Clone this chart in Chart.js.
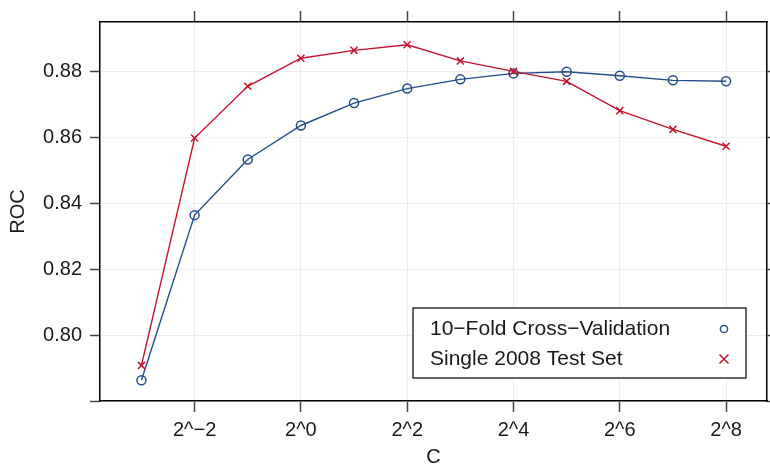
<!DOCTYPE html>
<html>
<head>
<meta charset="utf-8">
<title>ROC vs C</title>
<script src="https://cdn.jsdelivr.net/npm/chart.js"></script>
<style>
  body { margin: 0; background: #fff; }
  #wrap { width: 770px; height: 467px; }
</style>
</head>
<body>
<div id="wrap"><canvas id="rocChart"></canvas></div>
<script>
// log2(C) values of the tuning grid
const log2C = [-3, -2, -1, 0, 1, 2, 3, 4, 5, 6, 7, 8];

// ROC
const cvROC = [0.7863, 0.8364, 0.8533, 0.8636, 0.8704, 0.8748, 0.8776, 0.8794, 0.8799, 0.8787, 0.8773, 0.8770];
const testROC = [0.7908, 0.8598, 0.8755, 0.8840, 0.8864, 0.8881, 0.8832, 0.8800, 0.8770, 0.8681, 0.8624, 0.8573];

const seriesNames = ['10\u2212Fold Cross\u2212Validation', 'Single 2008 Test Set'];

// axis ticks
const xTicks = [-2, 0, 2, 4, 6, 8];
const xTickLabels = ['2^\u22122', '2^0', '2^2', '2^4', '2^6', '2^8'];
const yTicks = [0.78, 0.80, 0.82, 0.84, 0.86, 0.88];
const yTickLabels = ['', '0.80', '0.82', '0.84', '0.86', '0.88'];

const blue = '#234e8c';
const red = '#c4142d';
const gridCol = '#ececec';
const tickCol = '#444';
const font = 'Liberation Sans, Arial, Helvetica, sans-serif';

const setTicks = (vals) => (scale) => { scale.ticks = vals.map(v => ({ value: v })); };
const fitW = (w) => (scale) => { scale.width = w; };
const fitH = (h) => (scale) => { scale.height = h; };

// lattice style key: text on the left, symbol on the right, boxed
const keyBox = {
  id: 'keyBox',
  afterDraw(chart) {
    const ctx = chart.ctx;
    const x0 = 413, y0 = 308, w = 333, h = 70;
    ctx.save();
    ctx.fillStyle = '#fff';
    ctx.fillRect(x0, y0, w, h);
    ctx.strokeStyle = '#000';
    ctx.lineWidth = 1.2;
    ctx.strokeRect(x0, y0, w, h);
    ctx.font = '21px ' + font;
    ctx.textBaseline = 'middle';
    ctx.textAlign = 'left';
    chart.data.datasets.forEach((ds, i) => {
      const y = y0 + 21 + i * 30;
      ctx.fillStyle = '#1a1a1a';
      ctx.fillText(ds.label, x0 + 17, y);
      ctx.strokeStyle = ds.borderColor;
      ctx.lineWidth = 1.5;
      const sx = x0 + 311;
      ctx.beginPath();
      if (ds.pointStyle === 'circle') {
        ctx.arc(sx, y, 3.6, 0, Math.PI * 2);
      } else {
        ctx.moveTo(sx - 4.5, y - 4.5); ctx.lineTo(sx + 4.5, y + 4.5);
        ctx.moveTo(sx - 4.5, y + 4.5); ctx.lineTo(sx + 4.5, y - 4.5);
      }
      ctx.stroke();
    });
    ctx.restore();
  }
};

new Chart(document.getElementById('rocChart'), {
  type: 'line',
  data: {
    datasets: [
      {
        label: seriesNames[0],
        data: log2C.map((x, i) => ({ x: x, y: cvROC[i] })),
        borderColor: blue,
        backgroundColor: 'transparent',
        borderWidth: 1.4,
        pointStyle: 'circle',
        pointRadius: 4.5,
        pointBorderWidth: 1.5,
        pointBorderColor: blue,
        pointBackgroundColor: 'transparent',
        tension: 0,
        order: 2
      },
      {
        label: seriesNames[1],
        data: log2C.map((x, i) => ({ x: x, y: testROC[i] })),
        borderColor: red,
        backgroundColor: 'transparent',
        borderWidth: 1.4,
        pointStyle: 'crossRot',
        pointRadius: 5,
        pointBorderWidth: 1.5,
        pointBorderColor: red,
        tension: 0,
        order: 1
      }
    ]
  },
  options: {
    responsive: true,
    maintainAspectRatio: false,
    animation: false,
    layout: { padding: 0, autoPadding: false },
    plugins: { legend: { display: false }, tooltip: { enabled: false } },
    scales: {
      x: {
        type: 'linear', position: 'bottom', min: -3.78, max: 8.77,
        afterBuildTicks: setTicks(xTicks),
        afterFit: fitH(66),
        ticks: {
          callback: (v) => xTickLabels[xTicks.indexOf(v)],
          color: '#1a1a1a', font: { family: font, size: 20 }, padding: 6, maxRotation: 0
        },
        grid: { color: gridCol, lineWidth: 1, tickColor: tickCol, tickLength: 11, tickWidth: 1.5 },
        border: { color: '#000', width: 1.5 },
        title: { display: true, text: 'C', color: '#1a1a1a', font: { family: font, size: 20, lineHeight: 1 }, padding: { top: 0, bottom: 0 } }
      },
      xTop: {
        type: 'linear', position: 'top', min: -3.78, max: 8.77,
        afterBuildTicks: setTicks(xTicks),
        afterFit: fitH(22),
        ticks: { display: false },
        grid: { drawOnChartArea: false, tickColor: tickCol, tickLength: 11, tickWidth: 1.5 },
        border: { color: '#000', width: 1.5 }
      },
      y: {
        type: 'linear', position: 'left', min: 0.78, max: 0.895,
        afterBuildTicks: setTicks(yTicks),
        afterFit: fitW(100),
        ticks: {
          callback: (v) => yTickLabels[yTicks.findIndex(t => Math.abs(t - v) < 1e-9)],
          color: '#1a1a1a', font: { family: font, size: 20 }, padding: 8
        },
        grid: { color: gridCol, lineWidth: 1, tickColor: tickCol, tickLength: 10, tickWidth: 1.5 },
        border: { color: '#000', width: 1.5 },
        title: { display: true, text: 'ROC', color: '#1a1a1a', font: { family: font, size: 20, lineHeight: 1 }, padding: { top: 8, bottom: 0 } }
      },
      yRight: {
        type: 'linear', position: 'right', min: 0.78, max: 0.895,
        afterBuildTicks: setTicks(yTicks),
        afterFit: fitW(3),
        ticks: { display: false },
        grid: { drawOnChartArea: false, tickColor: tickCol, tickLength: 4, tickWidth: 1.5 },
        border: { color: '#000', width: 1.5 }
      }
    }
  },
  plugins: [keyBox]
});
</script>
</body>
</html>
